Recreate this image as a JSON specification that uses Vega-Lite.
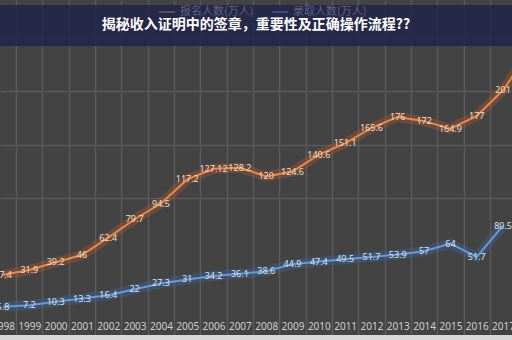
{
  "$schema": "https://vega.github.io/schema/vega-lite/v6.json",
  "width": 512,
  "height": 340,
  "autosize": {"type": "none"},
  "padding": 0,
  "background": "#434343",
  "config": {"view": {"stroke": null}, "font": "Noto Sans"},
  "title": {
    "text": "揭秘收入证明中的签章，重要性及正确操作流程??",
    "font": "Noto Sans CJK SC",
    "fontSize": 14,
    "fontWeight": "bold",
    "color": "#ffffff",
    "anchor": "middle",
    "frame": "group",
    "baseline": "middle",
    "offset": -39
  },
  "datasets": {
    "enroll": [
      {"year": 1998, "value": 27.4, "label": "27.4"},
      {"year": 1999, "value": 31.9, "label": "31.9"},
      {"year": 2000, "value": 39.2, "label": "39.2"},
      {"year": 2001, "value": 46, "label": "46"},
      {"year": 2002, "value": 62.4, "label": "62.4"},
      {"year": 2003, "value": 79.7, "label": "79.7"},
      {"year": 2004, "value": 94.5, "label": "94.5"},
      {"year": 2005, "value": 117.2, "label": "117.2"},
      {"year": 2006, "value": 127.12, "label": "127.12"},
      {"year": 2007, "value": 128.2, "label": "128.2"},
      {"year": 2008, "value": 120, "label": "120"},
      {"year": 2009, "value": 124.6, "label": "124.6"},
      {"year": 2010, "value": 140.6, "label": "140.6"},
      {"year": 2011, "value": 151.1, "label": "151.1"},
      {"year": 2012, "value": 165.6, "label": "165.6"},
      {"year": 2013, "value": 176, "label": "176"},
      {"year": 2014, "value": 172, "label": "172"},
      {"year": 2015, "value": 164.9, "label": "164.9"},
      {"year": 2016, "value": 177, "label": "177"},
      {"year": 2017, "value": 201, "label": "201"},
      {"year": 2018, "value": 238, "label": "238"}
    ],
    "admit": [
      {"year": 1998, "value": 5.8, "label": "5.8"},
      {"year": 1999, "value": 7.2, "label": "7.2"},
      {"year": 2000, "value": 10.3, "label": "10.3"},
      {"year": 2001, "value": 13.3, "label": "13.3"},
      {"year": 2002, "value": 16.4, "label": "16.4"},
      {"year": 2003, "value": 22, "label": "22"},
      {"year": 2004, "value": 27.3, "label": "27.3"},
      {"year": 2005, "value": 31, "label": "31"},
      {"year": 2006, "value": 34.2, "label": "34.2"},
      {"year": 2007, "value": 36.1, "label": "36.1"},
      {"year": 2008, "value": 38.6, "label": "38.6"},
      {"year": 2009, "value": 44.9, "label": "44.9"},
      {"year": 2010, "value": 47.4, "label": "47.4"},
      {"year": 2011, "value": 49.5, "label": "49.5"},
      {"year": 2012, "value": 51.7, "label": "51.7"},
      {"year": 2013, "value": 53.9, "label": "53.9"},
      {"year": 2014, "value": 57, "label": "57"},
      {"year": 2015, "value": 64, "label": "64"},
      {"year": 2016, "value": 51.7, "label": "51.7"},
      {"year": 2017, "value": 80.5, "label": "80.5"}
    ]
  },
  "layer": [
    {
      "data": {"name": "enroll"},
      "encoding": {
        "x": {
          "field": "year", "type": "quantitative",
          "scale": {"domain": [1997.886, 2017.34], "nice": false, "zero": false},
          "axis": {
            "orient": "bottom",
            "title": null, "labels": false, "ticks": false, "domain": false,
            "grid": true, "gridColor": "#5a5a5a", "gridWidth": 1.5,
            "values": [1998.5, 1999.5, 2000.5, 2001.5, 2002.5, 2003.5, 2004.5, 2005.5, 2006.5, 2007.5, 2008.5, 2009.5, 2010.5, 2011.5, 2012.5, 2013.5, 2014.5, 2015.5, 2016.5]
          }
        },
        "y": {
          "field": "value", "type": "quantitative",
          "scale": {"domain": [-33.9, 286], "nice": false, "zero": false},
          "axis": {
            "orient": "left",
            "title": null, "labels": false, "ticks": false, "domain": false,
            "grid": true, "gridColor": "#5a5a5a", "gridWidth": 1.5,
            "values": [100, 150, 200, 250]
          }
        }
      },
      "layer": [
        {"mark": {"type": "line", "color": "#c4602a", "strokeWidth": 10, "opacity": 0.3, "clip": true}},
        {"mark": {"type": "line", "strokeWidth": 2, "clip": true},
         "encoding": {"color": {"datum": "报名人数(万人)", "type": "nominal",
           "scale": {"domain": ["报名人数(万人)", "录取人数(万人)"], "range": ["#e58a52", "#6a9ad6"]},
           "legend": {
             "orient": "none", "legendX": 158, "legendY": 3, "direction": "horizontal",
             "title": null, "symbolType": "stroke", "symbolSize": 260, "symbolStrokeWidth": 1.5,
             "symbolOpacity": 0.45, "labelColor": "#5f6085", "labelFont": "Noto Sans CJK SC",
             "labelFontSize": 11, "columnPadding": 14
           }}}},
        {"mark": {"type": "text", "color": "#f6dcc4", "fontSize": 9, "baseline": "middle", "clip": true},
         "encoding": {"text": {"field": "label"}}}
      ]
    },
    {
      "data": {"name": "admit"},
      "encoding": {
        "x": {
          "field": "year", "type": "quantitative",
          "scale": {"domain": [1997.886, 2017.34], "nice": false, "zero": false},
          "axis": {
            "orient": "bottom",
            "title": null, "ticks": false, "domain": false, "grid": false,
            "format": "d", "labelColor": "#cfcfcf", "labelFontSize": 10,
            "labelPadding": 2, "offset": -21, "labelFlush": false, "labelOverlap": false,
            "values": [1998, 1999, 2000, 2001, 2002, 2003, 2004, 2005, 2006, 2007, 2008, 2009, 2010, 2011, 2012, 2013, 2014, 2015, 2016, 2017]
          }
        },
        "y": {
          "field": "value", "type": "quantitative",
          "scale": {"domain": [-24.9, 288.7], "nice": false, "zero": false},
          "axis": null
        }
      },
      "layer": [
        {"mark": {"type": "line", "color": "#3f6aa3", "strokeWidth": 10, "opacity": 0.35, "clip": true}},
        {"mark": {"type": "line", "strokeWidth": 2, "clip": true},
         "encoding": {"color": {"datum": "录取人数(万人)", "type": "nominal"}}},
        {"mark": {"type": "text", "color": "#d6e3f4", "fontSize": 9, "baseline": "middle", "clip": true},
         "encoding": {"text": {"field": "label"}}}
      ]
    },
    {
      "data": {"values": [{}]},
      "layer": [
        {
          "mark": {"type": "rect", "color": "#23264a", "opacity": 0.9, "clip": true},
          "encoding": {
            "x": {"datum": 1997.886, "type": "quantitative", "scale": {"domain": [1997.886, 2017.34], "nice": false, "zero": false}, "axis": null},
            "x2": {"datum": 2017.34},
            "y": {"datum": 281.3, "type": "quantitative", "scale": {"domain": [-33.9, 286], "nice": false, "zero": false}, "axis": null},
            "y2": {"datum": 242.8}
          }
        },
        {
          "mark": {"type": "rect", "color": "#d8d8d8", "clip": true},
          "encoding": {
            "x": {"datum": 1997.886, "type": "quantitative", "scale": {"domain": [1997.886, 2017.34], "nice": false, "zero": false}, "axis": null},
            "x2": {"datum": 2017.34},
            "y": {"datum": -29.2, "type": "quantitative", "scale": {"domain": [-33.9, 286], "nice": false, "zero": false}, "axis": null},
            "y2": {"datum": -33.9}
          }
        }
      ]
    }
  ],
  "resolve": {"scale": {"x": "independent", "y": "independent"}}
}
